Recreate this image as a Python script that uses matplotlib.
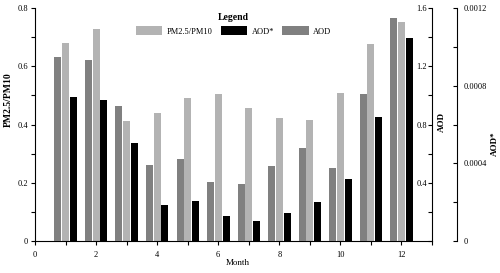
import matplotlib
matplotlib.use("Agg")
import matplotlib.pyplot as plt
import numpy as np
from matplotlib.ticker import MultipleLocator, FuncFormatter

plt.rcParams['font.family'] = ['Liberation Serif', 'DejaVu Serif']

# 月份与三组数据
months = np.arange(1, 13)
pm_ratio = [0.679, 0.727, 0.411, 0.441, 0.492, 0.504, 0.458, 0.423, 0.414, 0.508, 0.677, 0.753]
aod = [1.266, 1.241, 0.925, 0.524, 0.565, 0.403, 0.393, 0.513, 0.641, 0.499, 1.011, 1.533]
aod_star = [0.000740, 0.000726, 0.000503, 0.000184, 0.000208, 0.000129,
            0.000105, 0.000143, 0.000201, 0.000318, 0.000639, 0.001044]

c_light = '#b3b3b3'
c_dark = '#808080'
c_black = '#000000'
width = 0.23

fig = plt.figure(figsize=(5, 2.73), dpi=100)
ax = fig.add_axes([0.07, 0.1172, 0.794, 0.8535])
ax2 = ax.twinx()
ax3 = ax.twinx()

b_pm = ax.bar(months, pm_ratio, width, color=c_light, label='PM2.5/PM10')
b_aod = ax2.bar(months - 0.25, aod, width, color=c_dark, label='AOD')
b_star = ax3.bar(months + 0.255, aod_star, width, color=c_black, label='AOD*')

fmt = FuncFormatter(lambda v, p: '%g' % round(v, 6))

# 左轴
ax.set_xlim(0, 13)
ax.set_ylim(0, 0.8)
ax.xaxis.set_major_locator(MultipleLocator(2))
ax.xaxis.set_minor_locator(MultipleLocator(1))
ax.yaxis.set_major_locator(MultipleLocator(0.2))
ax.yaxis.set_minor_locator(MultipleLocator(0.1))
ax.yaxis.set_major_formatter(fmt)
ax.tick_params(which='both', direction='out', length=3, width=0.8, labelsize=6, pad=2)
ax.tick_params(axis='x', pad=4)
ax.spines['top'].set_visible(False)
ax.spines['right'].set_visible(False)
ax.set_xlabel('Month', fontsize=6.5, labelpad=0, x=0.51)
ax.set_ylabel('PM2.5/PM10', fontsize=7, fontweight='bold', labelpad=3, y=0.605)

# AOD 轴（刻度标签在轴线内侧）
ax2.set_ylim(0, 1.6)
ax2.set_yticks([0.4, 0.8, 1.2, 1.6])
ax2.yaxis.set_minor_locator(MultipleLocator(0.2))
ax2.yaxis.set_major_formatter(fmt)
ax2.tick_params(axis='y', which='both', direction='in', length=3, width=0.8, labelsize=6, pad=-3.5)
for lbl in ax2.get_yticklabels():
    lbl.set_horizontalalignment('right')
for s in ['top', 'left', 'bottom']:
    ax2.spines[s].set_visible(False)
ax2.set_ylabel('AOD', fontsize=6.5, fontweight='bold', labelpad=4, y=0.512)

# AOD* 轴
ax3.set_ylim(0, 0.0012)
ax3.set_yticks([0, 0.0004, 0.0008, 0.0012])
ax3.yaxis.set_minor_locator(MultipleLocator(0.0002))
ax3.yaxis.set_major_formatter(fmt)
ax3.spines['right'].set_position(('axes', 1.062))
for s in ['top', 'left', 'bottom']:
    ax3.spines[s].set_visible(False)
ax3.tick_params(axis='y', which='both', direction='in', length=3, width=0.8, labelsize=6, pad=5)
ax3.set_ylabel('AOD*', fontsize=6.5, fontweight='bold', labelpad=3, y=0.419)

for a in (ax, ax2, ax3):
    for s in a.spines.values():
        s.set_linewidth(0.8)

leg = ax3.legend([b_pm, b_star, b_aod], ['PM2.5/PM10', 'AOD*', 'AOD'],
                 title='Legend', ncol=3, loc='upper center', bbox_to_anchor=(0.5, 0.985),
                 frameon=False, fontsize=6, handlelength=3.2, handleheight=1.3,
                 handletextpad=0.5, columnspacing=1.0, borderpad=0.2, borderaxespad=0)
leg.get_title().set_fontweight('bold')
leg.get_title().set_fontsize(7)

fig.savefig('out.png', dpi=100)
